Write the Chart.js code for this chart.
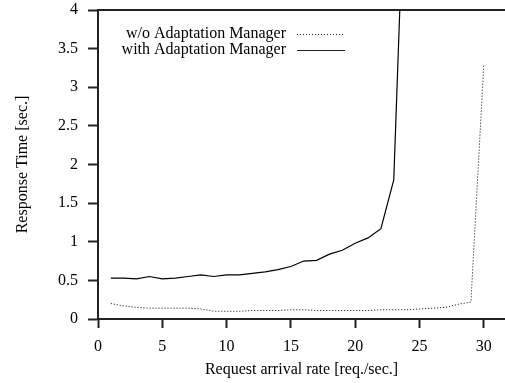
<!DOCTYPE html>
<html>
<head>
<meta charset="utf-8">
<script src="https://cdn.jsdelivr.net/npm/chart.js@4"></script>
<style>
  html, body { margin: 0; padding: 0; background: #fff; }
  #chart { display: block; }
</style>
</head>
<body>
<canvas id="chart" width="505" height="383"></canvas>
<script>
// request arrival rate [req./sec.]
var rates = [1, 2, 3, 4, 5, 6, 7, 8, 9, 10, 11, 12, 13, 14, 15, 16, 17, 18, 19, 20,
    21, 22, 23, 24, 25, 26, 27, 28, 29, 30];

// response time without adaptation manager
var withoutAM = [0.20, 0.17, 0.15, 0.14, 0.14, 0.14, 0.14, 0.13, 0.10, 0.10,
    0.10, 0.11, 0.11, 0.11, 0.12, 0.12, 0.11, 0.11, 0.11, 0.11,
    0.11, 0.12, 0.12, 0.12, 0.13, 0.14, 0.15, 0.19, 0.22, 3.29];

// response time with adaptation manager (goes off the top after 23)
var withAM = [0.53, 0.53, 0.52, 0.55, 0.52, 0.53, 0.55, 0.57, 0.55, 0.57,
    0.57, 0.59, 0.61, 0.64, 0.68, 0.75, 0.76, 0.84, 0.89, 0.98,
    1.05, 1.17, 1.80, 6.5];

var seriesNames = ['w/o Adaptation Manager', 'with Adaptation Manager'];
var xTicks = [0, 5, 10, 15, 20, 25, 30];

var FONT = 'Liberation Serif, Times New Roman, serif';

function toPoints(vals) {
    return vals.map(function (v, i) { return { x: rates[i], y: v }; });
}

// frame line on top + hand drawn legend like gnuplot
var framePlugin = {
    id: 'frame',
    afterDraw: function (chart) {
        var ctx = chart.ctx;
        var a = chart.chartArea;
        ctx.save();
        ctx.strokeStyle = '#222';
        ctx.lineWidth = 2;
        ctx.beginPath();
        ctx.moveTo(a.left - 1, a.top);
        ctx.lineTo(a.right + 5, a.top);
        ctx.stroke();

        ctx.font = '16px ' + FONT;
        ctx.fillStyle = '#000';
        ctx.textAlign = 'right';
        ctx.textBaseline = 'middle';
        var rows = [34, 50];
        var dashes = [[1, 2], []];
        for (var i = 0; i < seriesNames.length; i++) {
            ctx.fillText(seriesNames[i], 286, rows[i]);
            ctx.lineWidth = 1;
            ctx.setLineDash(dashes[i]);
            ctx.beginPath();
            ctx.moveTo(297, rows[i] + 0.5);
            ctx.lineTo(345, rows[i] + 0.5);
            ctx.stroke();
        }
        ctx.restore();
    }
};

const ctx = document.getElementById('chart').getContext('2d');
new Chart(ctx, {
    type: 'line',
    data: {
        datasets: [{
            label: seriesNames[0],
            data: toPoints(withoutAM),
            borderColor: '#000',
            borderWidth: 1,
            borderDash: [1, 2],
            pointRadius: 0,
            tension: 0,
            fill: false
        }, {
            label: seriesNames[1],
            data: toPoints(withAM),
            borderColor: '#000',
            borderWidth: 1.2,
            pointRadius: 0,
            tension: 0,
            fill: false
        }]
    },
    options: {
        responsive: false,
        animation: false,
        layout: { padding: { left: 0, right: 0, top: 10, bottom: 0 } },
        plugins: {
            legend: { display: false },
            tooltip: { enabled: false }
        },
        scales: {
            x: {
                type: 'linear',
                min: 0,
                max: 31.65,
                afterFit: function (scale) {
                    scale.height = 64;
                    scale.paddingLeft = 0;
                    scale.paddingRight = 0;
                },
                afterBuildTicks: function (scale) {
                    scale.ticks = xTicks.map(function (v) { return { value: v }; });
                },
                ticks: {
                    font: { family: FONT, size: 16 },
                    color: '#000',
                    padding: 9,
                    maxRotation: 0
                },
                grid: {
                    drawOnChartArea: false,
                    drawTicks: true,
                    tickLength: 9,
                    tickWidth: 2,
                    tickColor: '#222'
                },
                border: { display: true, color: '#222', width: 2 },
                title: {
                    display: true,
                    text: 'Request arrival rate [req./sec.]',
                    font: { family: FONT, size: 16 },
                    color: '#000',
                    padding: { top: 0, bottom: 4 }
                }
            },
            y: {
                min: 0,
                max: 4,
                afterFit: function (scale) {
                    scale.width = 98;
                    scale.paddingTop = 0;
                    scale.paddingBottom = 0;
                },
                ticks: {
                    stepSize: 0.5,
                    font: { family: FONT, size: 16 },
                    color: '#000',
                    padding: 10,
                    callback: function (v) { return String(v); }
                },
                grid: {
                    drawOnChartArea: false,
                    drawTicks: true,
                    tickLength: 10,
                    tickWidth: 2,
                    tickColor: '#222'
                },
                border: { display: true, color: '#222', width: 2 },
                title: {
                    display: true,
                    text: 'Response Time [sec.]',
                    font: { family: FONT, size: 16 },
                    color: '#000',
                    padding: { top: 13, bottom: 0 }
                }
            }
        }
    },
    plugins: [framePlugin]
});
</script>
</body>
</html>
